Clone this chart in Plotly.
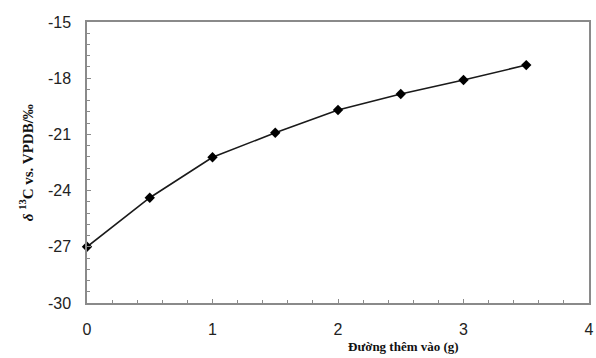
import plotly.graph_objects as go

sugar_g = [0, 0.5, 1, 1.5, 2, 2.5, 3, 3.5]
delta13c = [-27.0, -24.38, -22.22, -20.91, -19.70, -18.84, -18.10, -17.30]

x_ticks = [0, 1, 2, 3, 4]
y_ticks = [-30, -27, -24, -21, -18, -15]

fig = go.Figure()
fig.add_trace(go.Scatter(
    x=sugar_g, y=delta13c, mode="lines+markers",
    line=dict(color="#1a1a1a", width=1.6),
    marker=dict(symbol="diamond", size=8, color="#000000"),
    showlegend=False, cliponaxis=False,
))

tickfont = dict(family="Liberation Sans, Arial, sans-serif", size=16, color="#222222")

fig.update_xaxes(
    range=[0, 4], tickvals=x_ticks, ticktext=[str(v) for v in x_ticks],
    showgrid=False, zeroline=False,
    showline=True, linecolor="#8a8a8a", linewidth=1.5, mirror=True,
    ticks="inside", ticklen=4, tickwidth=1, tickcolor="#8a8a8a",
    minor=dict(dtick=0.2, ticks="inside", ticklen=3, tickcolor="#8a8a8a", showgrid=False),
    tickfont=tickfont, ticklabelstandoff=11, ticklabeloverflow="allow",
)
fig.update_yaxes(
    range=[-30, -15], tickvals=y_ticks, ticktext=[str(v) for v in y_ticks],
    showgrid=False, zeroline=False,
    showline=True, linecolor="#8a8a8a", linewidth=1.5, mirror=True,
    ticks="inside", ticklen=4, tickwidth=1, tickcolor="#8a8a8a",
    minor=dict(dtick=0.6, ticks="inside", ticklen=3, tickcolor="#8a8a8a", showgrid=False),
    tickfont=tickfont, ticklabelstandoff=11,
)

fig.add_annotation(
    text="<b><i>δ</i> <sup>13</sup>C vs. VPDB/‰</b>",
    xref="paper", yref="paper", x=-0.122, y=0.5, textangle=-90,
    showarrow=False, xanchor="center", yanchor="middle",
    font=dict(family="Liberation Serif, Times New Roman, serif", size=15, color="#111111"),
)
fig.add_annotation(
    text="<b>Đường thêm vào (g)</b>",
    xref="paper", yref="paper", x=0.63, y=-0.155,
    showarrow=False, xanchor="center", yanchor="middle",
    font=dict(family="Liberation Serif, Times New Roman, serif", size=13, color="#111111"),
)

fig.update_layout(
    width=596, height=358,
    margin=dict(l=87, r=2, t=22, b=55),
    paper_bgcolor="white", plot_bgcolor="white",
)

fig.write_html("out.html")
